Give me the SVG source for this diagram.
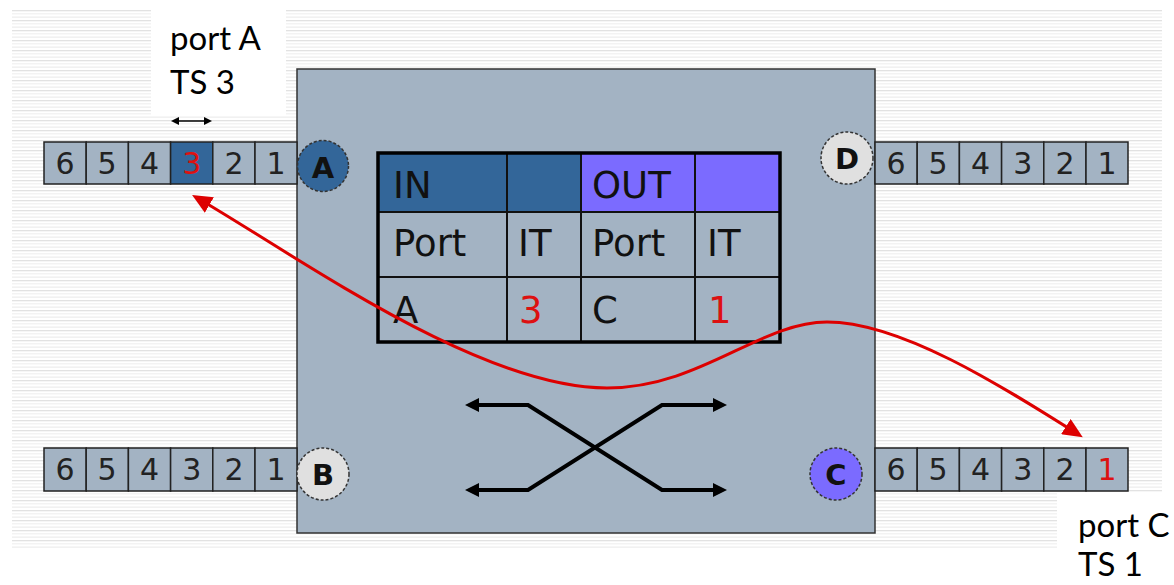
<svg xmlns="http://www.w3.org/2000/svg" width="1174" height="585" viewBox="0 0 1174 585">
<style>
.cell{fill:#a3b3c3;stroke:#222;stroke-width:1.5}
.num{font-family:"DejaVu Sans",Verdana,sans-serif;font-size:30px;fill:#222;text-anchor:middle}
.red{fill:#dd1111}
.plbl{font-family:"DejaVu Sans",Verdana,sans-serif;font-weight:bold;font-size:29px;fill:#111;text-anchor:middle}
.port{stroke:#333;stroke-width:1.5;stroke-dasharray:3 2}
.tt{font-family:"DejaVu Sans",Verdana,sans-serif;font-size:37px;fill:#111}
.lbl{font-family:Lato,"Open Sans",sans-serif;font-size:33px;fill:#000}
.tline{stroke:#111;stroke-width:2;fill:none}
</style>
<defs>
<pattern id="stripes" width="8" height="10" patternUnits="userSpaceOnUse">
<rect width="8" height="10" fill="#fff"/>
<rect y="0" width="8" height="1.3" fill="#e2e2e2"/>
<rect y="3.3" width="8" height="1" fill="#eeeeee"/>
<rect y="6.6" width="8" height="1" fill="#e9e9e9"/>
</pattern>
<marker id="blk" viewBox="0 0 14 14" refX="8" refY="7" markerWidth="14" markerHeight="14" markerUnits="userSpaceOnUse" orient="auto-start-reverse">
<path d="M0,0 L14,7 L0,14 z" fill="#000"/>
</marker>
<marker id="sm" viewBox="0 0 8 8" refX="4" refY="4" markerWidth="8" markerHeight="8" markerUnits="userSpaceOnUse" orient="auto-start-reverse">
<path d="M0,0 L8,4 L0,8 z" fill="#000"/>
</marker>
<marker id="redh" viewBox="0 0 20 18" refX="12" refY="9" markerWidth="20" markerHeight="18" markerUnits="userSpaceOnUse" orient="auto-start-reverse">
<path d="M0,0 L20,9 L0,18 z" fill="#dd0000"/>
</marker>
</defs>

<g id="background">
<rect x="12" y="9" width="1150" height="541" fill="url(#stripes)"/>
<rect x="151" y="9" width="135" height="106" fill="#fff"/>
<rect x="1057" y="493" width="117" height="92" fill="#fff"/>
</g>

<g id="switch">
<rect x="297" y="69" width="578" height="464" fill="#a3b3c3" stroke="#333" stroke-width="1.5"/>
</g>

<g id="strip-A">
<rect class="cell" x="44" y="142" width="42.2" height="42"/>
<rect class="cell" x="86.2" y="142" width="42.2" height="42"/>
<rect class="cell" x="128.4" y="142" width="42.2" height="42"/>
<rect class="cell" x="170.6" y="142" width="42.2" height="42" style="fill:#336699"/>
<rect class="cell" x="212.8" y="142" width="42.2" height="42"/>
<rect class="cell" x="255" y="142" width="42" height="42"/>
<text class="num" x="65" y="174">6</text>
<text class="num" x="107" y="174">5</text>
<text class="num" x="149.5" y="174">4</text>
<text class="num red" x="191.7" y="174">3</text>
<text class="num" x="234" y="174">2</text>
<text class="num" x="276" y="174">1</text>
</g>

<g id="strip-B">
<rect class="cell" x="44" y="448" width="42.2" height="43"/>
<rect class="cell" x="86.2" y="448" width="42.2" height="43"/>
<rect class="cell" x="128.4" y="448" width="42.2" height="43"/>
<rect class="cell" x="170.6" y="448" width="42.2" height="43"/>
<rect class="cell" x="212.8" y="448" width="42.2" height="43"/>
<rect class="cell" x="255" y="448" width="42" height="43"/>
<text class="num" x="65" y="480">6</text>
<text class="num" x="107" y="480">5</text>
<text class="num" x="149.5" y="480">4</text>
<text class="num" x="191.7" y="480">3</text>
<text class="num" x="234" y="480">2</text>
<text class="num" x="276" y="480">1</text>
</g>

<g id="strip-D">
<rect class="cell" x="875" y="142" width="42.2" height="42"/>
<rect class="cell" x="917.2" y="142" width="42.2" height="42"/>
<rect class="cell" x="959.4" y="142" width="42.2" height="42"/>
<rect class="cell" x="1001.6" y="142" width="42.2" height="42"/>
<rect class="cell" x="1043.8" y="142" width="42.2" height="42"/>
<rect class="cell" x="1086" y="142" width="42" height="42"/>
<text class="num" x="896" y="174">6</text>
<text class="num" x="938" y="174">5</text>
<text class="num" x="980.5" y="174">4</text>
<text class="num" x="1022.7" y="174">3</text>
<text class="num" x="1065" y="174">2</text>
<text class="num" x="1107" y="174">1</text>
</g>

<g id="strip-C">
<rect class="cell" x="875" y="448" width="42.2" height="43"/>
<rect class="cell" x="917.2" y="448" width="42.2" height="43"/>
<rect class="cell" x="959.4" y="448" width="42.2" height="43"/>
<rect class="cell" x="1001.6" y="448" width="42.2" height="43"/>
<rect class="cell" x="1043.8" y="448" width="42.2" height="43"/>
<rect class="cell" x="1086" y="448" width="42" height="43"/>
<text class="num" x="896" y="480">6</text>
<text class="num" x="938" y="480">5</text>
<text class="num" x="980.5" y="480">4</text>
<text class="num" x="1022.7" y="480">3</text>
<text class="num" x="1065" y="480">2</text>
<text class="num red" x="1107" y="480">1</text>
</g>

<g id="port-A">
<circle class="port" cx="323" cy="166" r="25.5" fill="#336699"/>
<text class="plbl" x="323" y="178">A</text>
</g>
<g id="port-B">
<circle class="port" cx="323" cy="474" r="26" fill="#e0e0e0"/>
<text class="plbl" x="323" y="485">B</text>
</g>
<g id="port-D">
<circle class="port" cx="847" cy="158" r="26" fill="#e0e0e0"/>
<text class="plbl" x="847" y="169">D</text>
</g>
<g id="port-C">
<circle class="port" cx="836" cy="474" r="26" fill="#7b6bff"/>
<text class="plbl" x="836" y="485">C</text>
</g>

<g id="table">
<rect x="378" y="153" width="129" height="59" fill="#336699"/>
<rect x="507" y="153" width="74" height="59" fill="#336699"/>
<rect x="581" y="153" width="114" height="59" fill="#7b6bff"/>
<rect x="695" y="153" width="85" height="59" fill="#7b6bff"/>
<line class="tline" x1="378" y1="212" x2="780" y2="212"/>
<line class="tline" x1="378" y1="277" x2="780" y2="277"/>
<line class="tline" x1="507" y1="153" x2="507" y2="342"/>
<line class="tline" x1="581" y1="153" x2="581" y2="342"/>
<line class="tline" x1="695" y1="153" x2="695" y2="342"/>
<rect x="378" y="153" width="402" height="189" fill="none" stroke="#000" stroke-width="3.5"/>
<text class="tt" x="393" y="198">IN</text>
<text class="tt" x="592" y="198">OUT</text>
<text class="tt" x="393" y="256">Port</text>
<text class="tt" x="518" y="256">IT</text>
<text class="tt" x="592" y="256">Port</text>
<text class="tt" x="707" y="256">IT</text>
<text class="tt" x="393" y="323">A</text>
<text class="tt" x="519" y="323" style="fill:#dd1111">3</text>
<text class="tt" x="592" y="323">C</text>
<text class="tt" x="708" y="323" style="fill:#dd1111">1</text>
</g>

<g id="crossbar" fill="none" stroke="#000" stroke-width="4">
<path d="M471 405 L528 405 L662 490 L721 490" marker-start="url(#blk)" marker-end="url(#blk)"/>
<path d="M471 490 L528 490 L662 405 L721 405" marker-start="url(#blk)" marker-end="url(#blk)"/>
</g>

<g id="label-A">
<text class="lbl" x="170" y="50">port A</text>
<text class="lbl" x="170" y="94">TS 3</text>
<line x1="175" y1="121" x2="208" y2="121" stroke="#000" stroke-width="1.5" marker-start="url(#sm)" marker-end="url(#sm)"/>
</g>

<g id="label-C">
<text class="lbl" x="1078" y="537">port C</text>
<text class="lbl" x="1078" y="576">TS 1</text>
</g>

<g id="connectors">
<path d="M199 199 C300 258 480 388 607 388 C700 388 760 322 827 322 C900 322 1000 385 1076 433" fill="none" stroke="#dd0000" stroke-width="3" marker-start="url(#redh)" marker-end="url(#redh)"/>
</g>
</svg>
